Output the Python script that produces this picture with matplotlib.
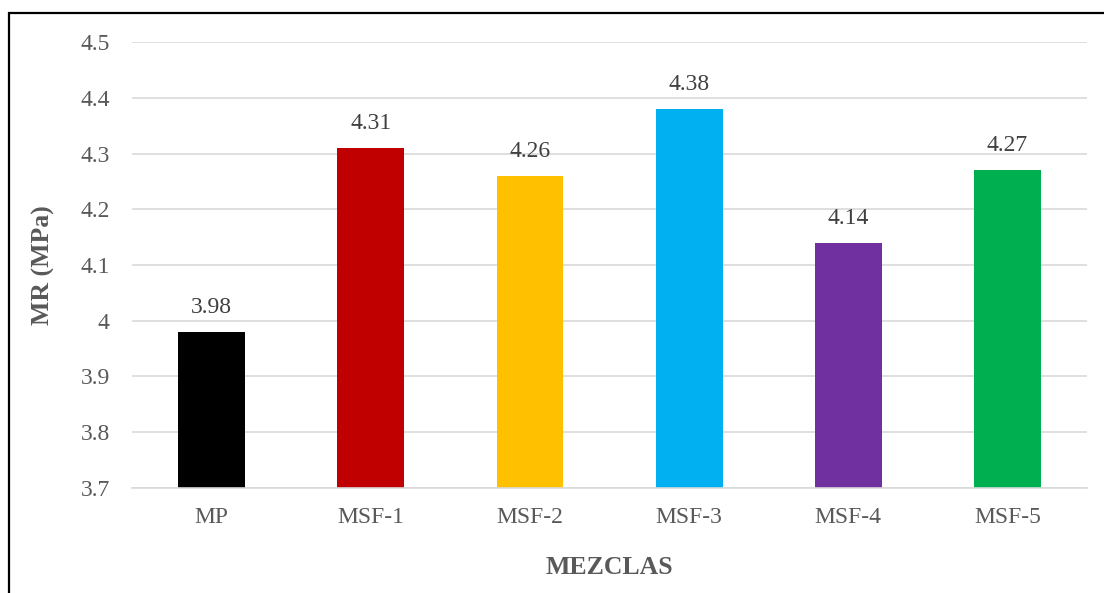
import matplotlib
matplotlib.use('Agg')
import matplotlib.pyplot as plt
from matplotlib.patches import Rectangle

# data
mezclas = ['MP', 'MSF-1', 'MSF-2', 'MSF-3', 'MSF-4', 'MSF-5']
mr = [3.98, 4.31, 4.26, 4.38, 4.14, 4.27]
colores = ['#000000', '#C00000', '#FFC000', '#00B0F0', '#7030A0', '#00B050']

plt.rcParams['font.family'] = ['Liberation Serif', 'DejaVu Serif']

fig = plt.figure(figsize=(11.04, 5.93), dpi=100)
ax = fig.add_axes([0.1196, 0.1771, 0.865, 0.752])

pos = list(range(len(mezclas)))
ax.bar(pos, mr, width=0.42, color=colores, zorder=2)
for p, v in zip(pos, mr):
    ax.text(p, v + 0.025, '%.2f' % v, ha='center', va='bottom',
            fontsize=17, color='#404040')

ax.set_ylim(3.7, 4.5)
ax.set_xlim(-0.5, len(mezclas) - 0.5)
ax.set_yticks([3.7, 3.8, 3.9, 4.0, 4.1, 4.2, 4.3, 4.4, 4.5])
ax.set_yticklabels(['3.7', '3.8', '3.9', '4', '4.1', '4.2', '4.3', '4.4', '4.5'])
ax.set_xticks(pos)
ax.set_xticklabels(mezclas)
ax.tick_params(axis='both', length=0, labelsize=17, colors='#595959')
ax.tick_params(axis='y', pad=16)
ax.tick_params(axis='x', pad=14)
ax.grid(axis='y', color='#d9d9d9', linewidth=1.2, zorder=0)
for s in ['top', 'right', 'left']:
    ax.spines[s].set_visible(False)
ax.spines['bottom'].set_color('#d9d9d9')
ax.spines['bottom'].set_linewidth(1.2)

ax.set_ylabel('MR (MPa)', fontsize=18.5, fontweight='bold', color='#595959', labelpad=18)
ax.set_xlabel('MEZCLAS', fontsize=18.5, fontweight='bold', color='#595959', labelpad=20)

# outer frame
fig.patches.append(Rectangle((9 / 1104, -0.05), 1.2, 1 - 13 / 593 + 0.05,
                             transform=fig.transFigure, fill=False,
                             edgecolor='black', linewidth=1.6))

fig.savefig('out.png', dpi=100)
